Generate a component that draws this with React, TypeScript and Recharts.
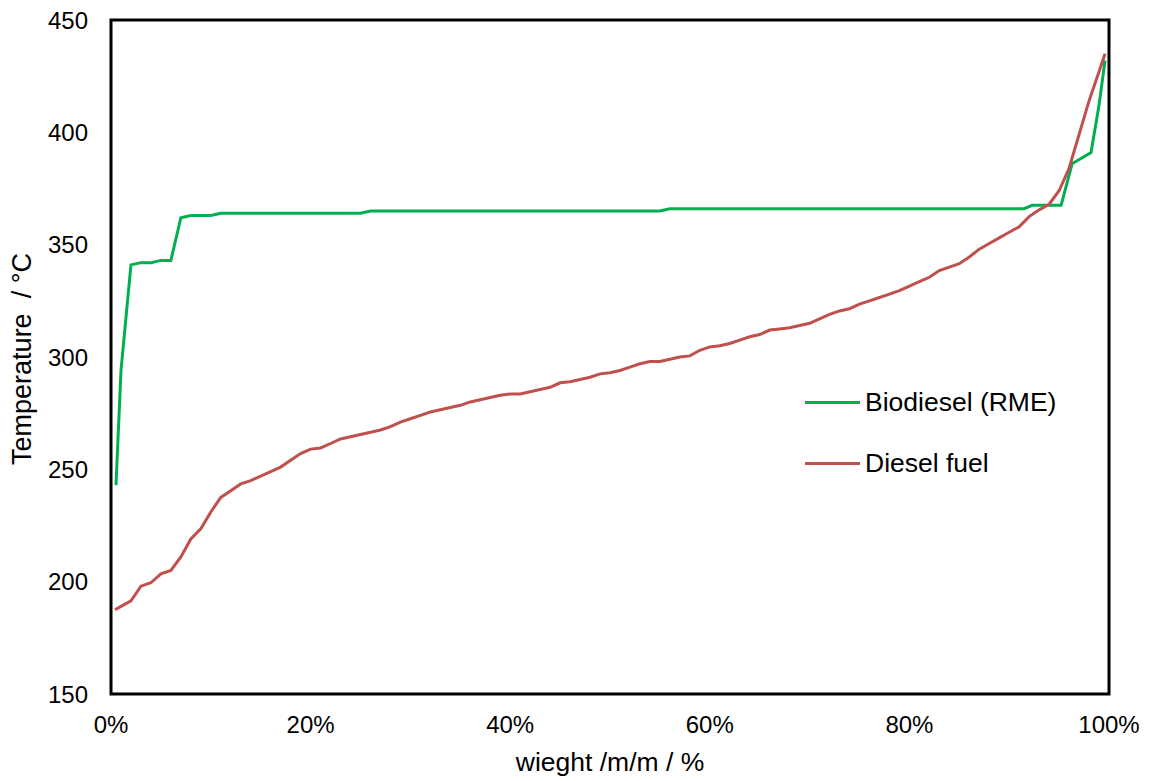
import { LineChart, Line, XAxis, YAxis, ReferenceArea, Legend } from 'recharts'

const FONT = '"Liberation Sans", Arial, sans-serif'

// Biodiesel (RME) distillation curve
const bioWeight = [0.5, 1, 2, 3, 4, 5, 6, 7, 8, 10, 11, 25, 26, 55, 56, 91.5, 92.3, 95.2, 96.3, 98.2, 99, 99.6]
const bioTemp = [243, 294, 341, 342, 342, 343, 343, 362, 363, 363, 364, 364, 365, 365, 366, 366, 367.5, 367.5, 386, 391, 412, 432]

// Diesel fuel distillation curve
const dieselWeight = [
  0.4, 1, 2, 3, 4, 5, 6, 7, 8, 9, 10, 11, 12, 13, 14, 15, 16, 17, 18, 19, 20,
  21, 22, 23, 24, 25, 26, 27, 28, 29, 30, 31, 32, 33, 34, 35, 36, 37, 38, 39, 40,
  41, 42, 43, 44, 45, 46, 47, 48, 49, 50, 51, 52, 53, 54, 55, 56, 57, 58, 59, 60,
  61, 62, 63, 64, 65, 66, 67, 68, 69, 70, 71, 72, 73, 74, 75, 76, 77, 78, 79, 80,
  81, 82, 83, 84, 85, 86, 87, 88, 89, 90, 91, 92, 93, 94, 95, 96, 97, 98, 99, 99.6,
]
const dieselTemp = [
  187.5, 189, 191.5, 198, 199.5, 203.5, 205, 211, 219, 223.5, 231, 237.5, 240.5, 243.5, 245, 247, 249, 251, 254, 257, 259,
  259.5, 261.5, 263.5, 264.5, 265.5, 266.5, 267.5, 269, 271, 272.5, 274, 275.5, 276.5, 277.5, 278.5, 280, 281, 282, 283, 283.5,
  283.5, 284.5, 285.5, 286.5, 288.5, 289, 290, 291, 292.5, 293, 294, 295.5, 297, 298, 298, 299, 300, 300.5, 303, 304.5,
  305, 306, 307.5, 309, 310, 312, 312.5, 313, 314, 315, 317, 319, 320.5, 321.5, 323.5, 325, 326.5, 328, 329.5, 331.5,
  333.5, 335.5, 338.5, 340, 341.5, 344.5, 348, 350.5, 353, 355.5, 358, 362.5, 365.5, 368, 374, 384, 399, 414, 427, 435,
]

const xTicks = [0, 20, 40, 60, 80, 100]
const yTicks = [150, 200, 250, 300, 350, 400, 450]

const bioData = bioWeight.map((w, i) => ({ w, t: bioTemp[i] }))
const dieselData = dieselWeight.map((w, i) => ({ w, t: dieselTemp[i] }))

const tickStyle = { fontSize: 24, fill: '#000', fontFamily: FONT }

const YLabel = ({ viewBox }: any) => {
  const cx = 22
  const cy = viewBox.y + viewBox.height / 2 + 2
  return (
    <text x={cx} y={cy} transform={`rotate(-90 ${cx} ${cy})`} textAnchor="middle" dominantBaseline="central"
      style={{ whiteSpace: 'pre' }} fontSize={27} fontFamily={FONT} fill="#000">
      {'Temperature  / °C'}
    </text>
  )
}

const XLabel = ({ viewBox }: any) => {
  const cx = viewBox.x + viewBox.width / 2
  return (
    <text x={cx} y={762} textAnchor="middle" dominantBaseline="central" fontSize={26.5} fontFamily={FONT} fill="#000">
      wieght /m/m / %
    </text>
  )
}

const renderLegend = ({ payload }: any) => (
  <div style={{ fontFamily: FONT }}>
    {payload.map((entry: any) => (
      <div key={entry.value} style={{ display: 'flex', alignItems: 'center', height: 61 }}>
        <span style={{ width: 55, height: 3.5, background: entry.color, display: 'inline-block' }} />
        <span style={{ marginLeft: 5, fontSize: 26.5, color: '#000' }}>{entry.value}</span>
      </div>
    ))}
  </div>
)

export default function App() {
  return (
    <div style={{ position: 'absolute', left: 0, top: 0, background: '#fff' }}>
      <LineChart width={1149} height={781} margin={{ top: 20, right: 40, bottom: 0, left: 0 }}>
        <XAxis dataKey="w" type="number" domain={[0, 100]} ticks={xTicks} tickFormatter={(v) => `${v}%`}
          allowDuplicatedCategory={false} axisLine={false} tickLine={false} tickSize={0} tickMargin={22}
          height={87} tick={tickStyle} label={<XLabel />} />
        <YAxis type="number" domain={[150, 450]} ticks={yTicks} axisLine={false} tickLine={false}
          tickSize={0} tickMargin={23} width={111} tick={tickStyle} label={<YLabel />} />
        <ReferenceArea x1={0} x2={100} y1={150} y2={450} fill="none" stroke="#000" strokeWidth={3} />
        <Legend layout="vertical" align="center" verticalAlign="middle" content={renderLegend}
          wrapperStyle={{ position: 'absolute', left: 805, top: 372, width: 320 }} />
        <Line data={bioData} dataKey="t" name="Biodiesel (RME)" type="linear" stroke="#00B050" strokeWidth={3}
          dot={false} isAnimationActive={false} />
        <Line data={dieselData} dataKey="t" name="Diesel fuel" type="linear" stroke="#C0504D" strokeWidth={3}
          dot={false} isAnimationActive={false} />
      </LineChart>
    </div>
  )
}
